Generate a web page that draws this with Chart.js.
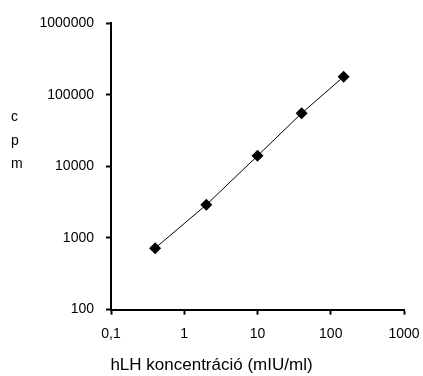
<!DOCTYPE html>
<html>
<head>
<meta charset="utf-8">
<script src="https://cdn.jsdelivr.net/npm/chart.js@4"></script>
<style>
  html, body { margin: 0; padding: 0; background: #fff; }
  #wrap { width: 423px; height: 376px; }
</style>
</head>
<body>
<div id="wrap"><canvas id="c"></canvas></div>
<script>
// hLH concentration (mIU/ml) and counts per minute
const concentration = [0.4, 2, 10, 40, 150];
const cpm = [720, 2900, 14000, 55000, 178000];

const xTicks = [0.1, 1, 10, 100, 1000];
const xTickLabels = ['0,1', '1', '10', '100', '1000'];
const yTicks = [100, 1000, 10000, 100000, 1000000];
const yTickLabels = ['100', '1000', '10000', '100000', '1000000'];

const yTitleLetters = ['c', 'p', 'm'];
const xTitle = 'hLH koncentráció (mIU/ml)';

const FONT = 'Arial, "Liberation Sans", sans-serif';

// vertical stacked y title (letters not rotated)
const stackedTitle = {
  id: 'stackedTitle',
  afterDraw(chart) {
    const ctx = chart.ctx;
    ctx.save();
    ctx.fillStyle = '#000';
    ctx.font = '14px ' + FONT;
    ctx.textAlign = 'left';
    ctx.textBaseline = 'alphabetic';
    yTitleLetters.forEach((ch, i) => {
      ctx.fillText(ch, 11, 121 + i * 23.5);
    });
    ctx.restore();
  }
};

const points = concentration.map((x, i) => ({ x: x, y: cpm[i] }));

new Chart(document.getElementById('c'), {
  type: 'scatter',
  data: {
    datasets: [{
      data: points,
      showLine: true,
      borderColor: '#000',
      borderWidth: 1,
      backgroundColor: '#000',
      pointStyle: 'rectRot',
      pointRadius: 6,
      pointHoverRadius: 6,
      pointBorderWidth: 0
    }]
  },
  options: {
    responsive: true,
    maintainAspectRatio: false,
    animation: false,
    events: [],
    layout: { padding: { left: 0, right: 0, top: 23, bottom: 0 } },
    plugins: {
      legend: { display: false },
      tooltip: { enabled: false },
      title: {
        display: true,
        position: 'bottom',
        text: xTitle,
        color: '#000',
        font: { family: FONT, size: 17, weight: 'normal' },
        padding: { top: 5, bottom: 0 }
      }
    },
    scales: {
      x: {
        type: 'logarithmic',
        min: 0.1,
        max: 1000,
        afterBuildTicks: (scale) => { scale.ticks = xTicks.map(v => ({ value: v })); },
        afterFit: (scale) => {
          scale.height = 41;
          scale.paddingRight = 19;
          scale.paddingLeft = 0;
        },
        ticks: {
          autoSkip: false,
          maxRotation: 0,
          padding: 11,
          color: '#000',
          font: { family: FONT, size: 14 },
          callback: (v) => {
            const i = xTicks.findIndex(t => Math.abs(t - v) < 1e-9);
            return i >= 0 ? xTickLabels[i] : '';
          }
        },
        grid: { drawOnChartArea: false, drawTicks: true, tickLength: 5, tickWidth: 2, color: '#000' },
        border: { display: true, color: '#000', width: 2 }
      },
      y: {
        type: 'logarithmic',
        min: 100,
        max: 1000000,
        afterBuildTicks: (scale) => { scale.ticks = yTicks.map(v => ({ value: v })); },
        afterFit: (scale) => { scale.width = 111; },
        ticks: {
          autoSkip: false,
          padding: 12,
          color: '#000',
          font: { family: FONT, size: 14 },
          callback: (v) => {
            const i = yTicks.findIndex(t => Math.abs(t - v) < 1e-6);
            return i >= 0 ? yTickLabels[i] : '';
          }
        },
        grid: { drawOnChartArea: false, drawTicks: true, tickLength: 5, tickWidth: 2, color: '#000' },
        border: { display: true, color: '#000', width: 2 }
      }
    }
  },
  plugins: [stackedTitle]
});
</script>
</body>
</html>
